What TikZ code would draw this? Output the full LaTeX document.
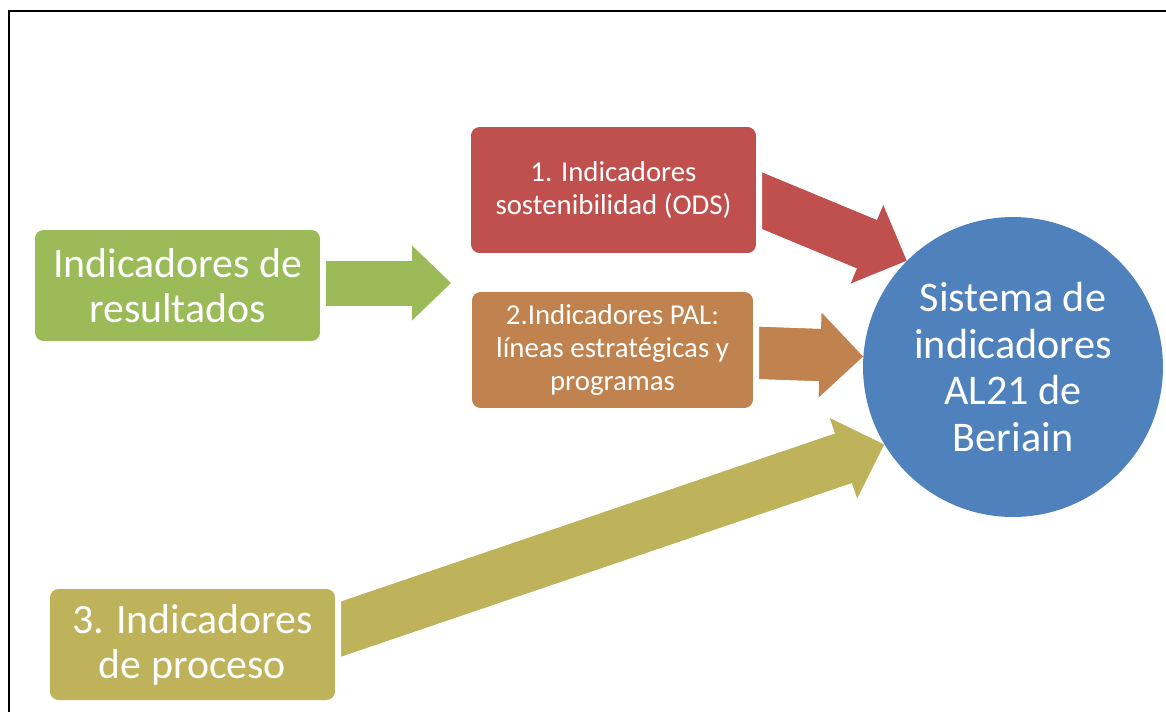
\documentclass[tikz,border=0pt]{standalone}
\usepackage{fontspec}
\setmainfont{Carlito}
\usetikzlibrary{arrows.meta,calc}
\definecolor{verde}{HTML}{9BBB59}
\definecolor{rojo}{HTML}{C0504D}
\definecolor{naranja}{HTML}{C0824F}
\definecolor{oliva}{HTML}{BEB35A}
\definecolor{azul}{HTML}{4F81BD}
\tikzstyle{caja} = [rectangle, rounded corners=0.17cm, align=center]
\tikzstyle{grande} = [font=\fontsize{23.8}{25.5}\selectfont]
\tikzstyle{chica} = [font=\fontsize{16.4}{19}\selectfont]
\tikzstyle{flecha} = [line width=1.04cm, -{Triangle[length=0.86cm, width=1.7cm, line width=0pt]}]

\begin{document}
\begin{tikzpicture}[x=0.02cm, y=-0.02cm]
\tikzset{every node/.style={text=white, inner sep=0pt}}
\useasboundingbox (0,0) rectangle (1166,711);
\draw[line width=0.05cm] (9,720) -- (9,11) -- (1175,11);

\node[caja, grande, fill=verde, minimum width=5.7cm, minimum height=2.22cm] (res) at (177.5,285.5) {Indicadores de\\resultados};
\node[caja, chica, fill=rojo, minimum width=5.7cm, minimum height=2.52cm] (sost) at (613.5,190) {1. Indicadores\\sostenibilidad (ODS)};
\node[caja, chica, fill=naranja, minimum width=5.62cm, minimum height=2.32cm] (pal) at (612.5,350) {2.Indicadores PAL:\\líneas estratégicas y\\programas};
\node[caja, grande, fill=oliva, minimum width=5.7cm, minimum height=2.22cm] (proc) at (192.5,644.5) {3. Indicadores\\de proceso};
\node[circle, fill=azul, minimum size=6cm, align=center, font=\fontsize{24}{26.5}\selectfont] (sis) at (1013,367) {Sistema de\\indicadores\\AL21 de\\Beriain};

\coordinate (pta) at (451,283);
\draw[verde, line width=0.9cm, -{Triangle[length=0.78cm, width=1.5cm, line width=0pt]}] ($(res.east)+(6,-2.5)$) -- (pta);
\draw[verde, line width=0.9cm, shorten >=0.72cm] ($(res.east)+(6,-2.5)$) -- (pta);

\foreach \desde/\colr/\dy/\ang in {sost/rojo/0/135, pal/naranja/2/176, proc/oliva/-6.7/211}
{
	\begin{scope}
	\clip ($(\desde.east)+(6,-300)$) rectangle (1166,711);
	\draw[flecha, \colr] ($(\desde.east)+(-20,\dy)$) -- (sis.\ang);
	% cuerpo un poco dentro de la punta
	\draw[line width=1.04cm, \colr, shorten >=0.8cm] ($(\desde.east)+(-20,\dy)$) -- (sis.\ang);
	\end{scope}
}
\end{tikzpicture}
\end{document}
